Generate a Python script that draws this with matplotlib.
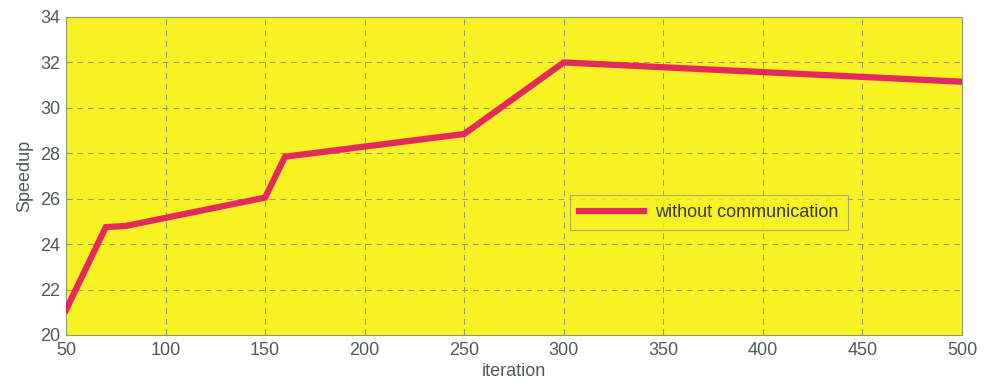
import matplotlib
matplotlib.use("Agg")
import matplotlib.pyplot as plt

# Speedup against iteration count
iterations = [50, 70, 80, 150, 160, 250, 300, 500]
speedup = [21.1, 24.75, 24.8, 26.05, 27.85, 28.85, 32.0, 31.15]
series_label = "without communication"
x_ticks = [50, 100, 150, 200, 250, 300, 350, 400, 450, 500]
y_ticks = [20, 22, 24, 26, 28, 30, 32, 34]

plt.rcParams["font.family"] = ["Liberation Sans", "DejaVu Sans"]
text_col = "#4d5c55"
grid_col = "#9a9670"

fig = plt.figure(figsize=(9.89, 3.88), dpi=100)
ax = fig.add_axes([0.0667, 0.1366, 0.906, 0.8196])
ax.set_facecolor("#f7f224")

ax.plot(iterations, speedup, color="#e42a5c", linewidth=4.5,
        solid_joinstyle="miter", label=series_label, zorder=3)

ax.set_xlim(50, 500)
ax.set_ylim(20, 34)
ax.set_xticks(x_ticks)
ax.set_yticks(y_ticks)
ax.grid(True, linestyle=(0, (6, 5)), color=grid_col, linewidth=0.7)
ax.tick_params(direction="in", length=4, colors=grid_col,
               labelcolor=text_col, labelsize=13)
ax.tick_params(axis="x", pad=5)
ax.tick_params(axis="y", pad=4)
for s in ax.spines.values():
    s.set_color("#8f9a70")
    s.set_linewidth(0.8)

ax.set_xlabel("iteration", color=text_col, fontsize=13, labelpad=3)
ax.set_ylabel("Speedup", color=text_col, fontsize=13, labelpad=5)

leg = ax.legend(loc="center", bbox_to_anchor=(0.7176, 0.384), fontsize=13,
                frameon=True, fancybox=False, handlelength=3.6,
                borderpad=0.5, handletextpad=0.6)
leg.get_frame().set_facecolor("#f7f224")
leg.get_frame().set_edgecolor(grid_col)
leg.get_frame().set_linewidth(0.8)
for t in leg.get_texts():
    t.set_color("#3a3a30")

fig.savefig("out.png", dpi=100, facecolor="white")
